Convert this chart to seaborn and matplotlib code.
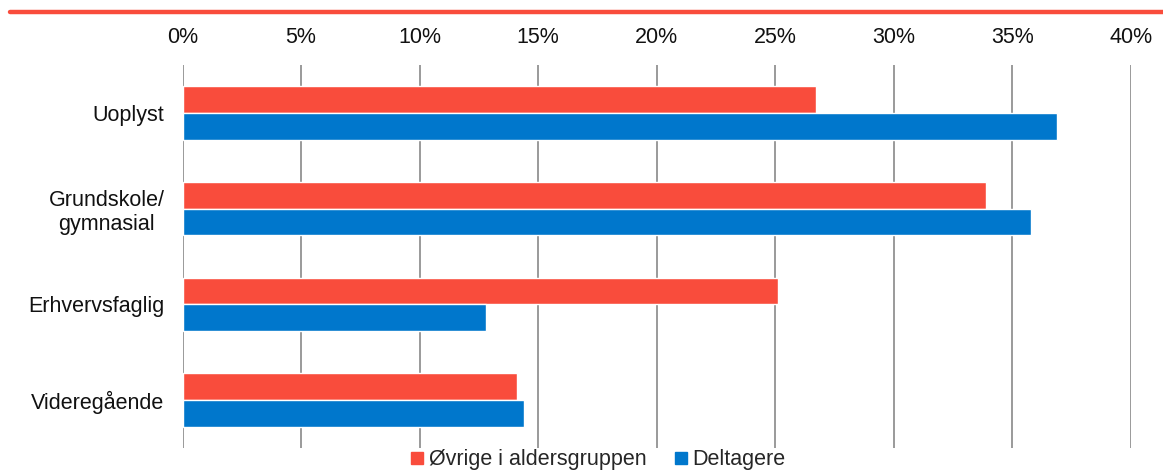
import matplotlib
matplotlib.use("Agg")
import matplotlib.pyplot as plt
import matplotlib.ticker as mticker
from matplotlib.lines import Line2D
import seaborn as sns
import pandas as pd

categories = ["Uoplyst", "Grundskole/\ngymnasial", "Erhvervsfaglig", "Videregående"]
series_names = ["Øvrige i aldersgruppen", "Deltagere"]
ovrige = [26.7, 33.9, 25.1, 14.1]
deltagere = [36.9, 35.8, 12.8, 14.4]
colors = ["#F94C3C", "#0077CC"]

df = pd.DataFrame({
    "kategori": categories * 2,
    "gruppe": [series_names[0]] * 4 + [series_names[1]] * 4,
    "andel": ovrige + deltagere,
})

sns.set_theme(style="white")
plt.rcParams["font.family"] = ["Liberation Sans", "DejaVu Sans"]

fig = plt.figure(figsize=(11.63, 4.70), dpi=100)
ax = fig.add_axes([182.5 / 1163, (470 - 448) / 470, (1131 - 182.5) / 1163, (448 - 65) / 470])

sns.barplot(data=df, y="kategori", x="andel", hue="gruppe", order=categories,
            hue_order=series_names, palette=colors, orient="h", width=0.56,
            saturation=1, ax=ax, legend=False, zorder=3)

ax.set_xlim(0, 40)
ax.set_ylim(3.5, -0.5)
ax.xaxis.set_major_locator(mticker.MultipleLocator(5))
ax.xaxis.set_major_formatter(mticker.FuncFormatter(lambda v, p: f"{int(v)}%"))
ax.xaxis.tick_top()
ax.tick_params(axis="x", length=0, pad=12, labelsize=15.5, colors="#111111")
ax.tick_params(axis="y", length=0, pad=13, labelsize=15.5, colors="#111111")
for lbl in ax.get_yticklabels():
    lbl.set_multialignment("center")
ax.set_xlabel("")
ax.set_ylabel("")
ax.grid(axis="x", color="#9a9a9a", linewidth=1.4, zorder=0)
ax.grid(axis="y", visible=False)
for s in ax.spines.values():
    s.set_visible(False)
ax.set_axisbelow(True)

# decorative rule across the top of the figure
fig.add_artist(Line2D([10 / 1163, 1.0], [1 - 11.5 / 470, 1 - 11.5 / 470],
                      color="#F94C3C", linewidth=3.2, transform=fig.transFigure))

handles = [Line2D([], [], marker="s", linestyle="none", markersize=8.5,
                  markerfacecolor=c, markeredgecolor=c) for c in colors]
fig.legend(handles, series_names, loc="center", bbox_to_anchor=(597 / 1163, 1 - 460 / 470),
           ncol=2, frameon=False, fontsize=15.5, handletextpad=0.15, columnspacing=1.2,
           borderpad=0, handlelength=0.8)

fig.savefig("out.png", dpi=100)
